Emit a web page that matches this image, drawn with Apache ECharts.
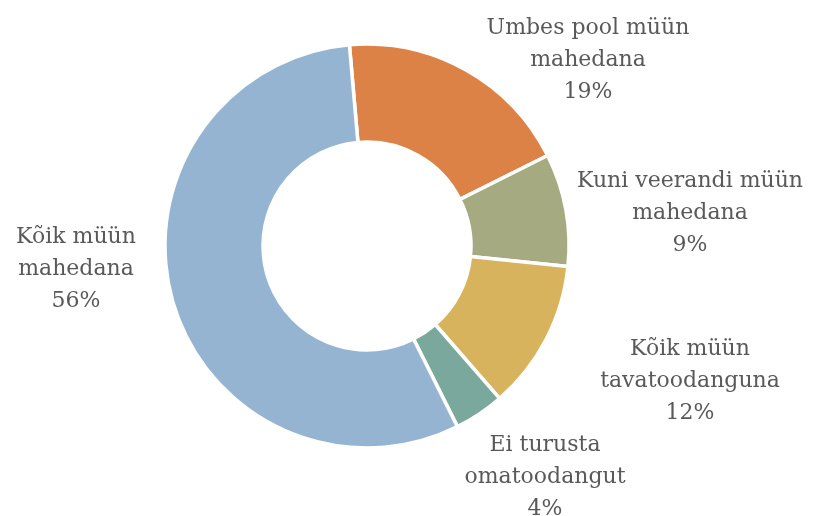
<!DOCTYPE html>
<html>
<head>
<meta charset="utf-8">
<script src="https://cdn.jsdelivr.net/npm/echarts@6/dist/echarts.min.js"></script>
<style>
  html, body { margin: 0; padding: 0; background: #fff; }
  #chart { width: 814px; height: 516px; }
</style>
</head>
<body>
<div id="chart"></div>
<script>
// andmed
const categories = [
  "Umbes pool müün\nmahedana",
  "Kuni veerandi müün\nmahedana",
  "Kõik müün\ntavatoodanguna",
  "Ei turusta\nomatoodangut",
  "Kõik müün\nmahedana"
];
const values = [19, 9, 12, 4, 56];
const colors = ["#DD8247", "#A5AA80", "#D8B35E", "#7AA89C", "#95B4D2"];

// siltide asukohad (keskpunkt)
const labelPos = [
  [588, 60],
  [690, 213],
  [690, 381],
  [545, 477],
  [76, 269]
];

const myChart = echarts.init(document.getElementById("chart"));
const option = {
  animation: false,
  series: [
    {
      type: "pie",
      center: [367, 246],
      radius: [104, 202],
      startAngle: 95,
      clockwise: true,
      data: categories.map((name, i) => ({
        name: name,
        value: values[i],
        itemStyle: { color: colors[i] }
      })),
      itemStyle: {
        borderColor: "#fff",
        borderWidth: 3.5
      },
      label: {
        show: true,
        formatter: "{b}\n{c}%",
        fontFamily: "DejaVu Serif",
        fontSize: 22,
        lineHeight: 32,
        color: "#595959",
        align: "center",
        overflow: "none",
        width: 260
      },
      labelLine: { show: false },
      labelLayout: function (params) {
        const p = labelPos[params.dataIndex];
        return {
          x: p[0],
          y: p[1],
          align: "center",
          verticalAlign: "middle"
        };
      },
      emphasis: { disabled: true }
    }
  ]
};
myChart.setOption(option);
</script>
</body>
</html>
